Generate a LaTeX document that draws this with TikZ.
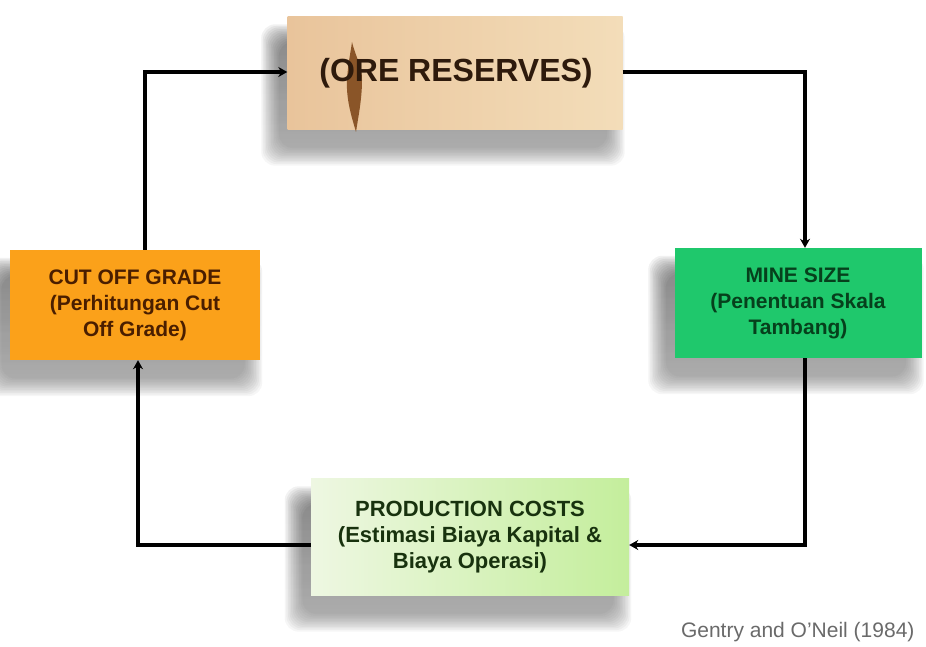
\documentclass[tikz,border=0pt]{standalone}
\usepackage{fontspec}
\setmainfont{Liberation Sans}
\usetikzlibrary{arrows.meta,calc,backgrounds}

\definecolor{oreA}{HTML}{E9C49B}
\definecolor{oreB}{HTML}{F3DDB9}
\definecolor{oreTxt}{HTML}{2E1A0C}
\definecolor{vein}{HTML}{8A5528}
\definecolor{cogFill}{HTML}{FBA11A}
\definecolor{cogTxt}{HTML}{4A1E00}
\definecolor{mineFill}{HTML}{1FC86C}
\definecolor{mineTxt}{HTML}{06401C}
\definecolor{prodA}{HTML}{EEF7E2}
\definecolor{prodB}{HTML}{C4EE9C}
\definecolor{prodTxt}{HTML}{18320E}
\definecolor{credit}{HTML}{6A6A6A}
\definecolor{shade}{HTML}{5A6478}

\tikzset{
  x=1pt, y=1pt,
  cyclebox/.style={rectangle, inner sep=0pt, align=center,
    font=\fontsize{21}{26}\selectfont\bfseries},
  flow/.style={line width=3.5pt, -{Stealth[length=9pt,width=10pt]}}
}

% soft drop shadow built from stacked translucent rectangles
\newcommand{\softshadow}[1]{%
  \foreach \k in {0,...,11}{%
    \fill[shade, opacity=0.035, rounded corners=14pt]
      ($(#1.south west)+(-12-14+\k*1.6,-22-14+\k*1.6)$) rectangle
      ($(#1.north east)+(-12+14-\k*1.6,-22+14-\k*1.6)$);
  }%
}

\begin{document}
\begin{tikzpicture}
\useasboundingbox (0,0) rectangle (926,647);

% the four stages of the cycle
\node[cyclebox, minimum width=335pt, minimum height=113pt,
      left color=oreA, right color=oreB] (ore) at (455,574) {};
% vein running through the rock sample
\fill[vein] (352,605) .. controls (356,589) and (362,581) .. (362,567)
  .. controls (362,547) and (358,529) .. (356,515)
  .. controls (352,529) and (346,547) .. (347,567)
  .. controls (348,583) and (350,591) .. (352,605) -- cycle;
\node[font=\fontsize{32}{32}\selectfont\bfseries, text=oreTxt] (oretext)
  at (456,574) {(ORE RESERVES)};

\node[cyclebox, minimum width=250pt, minimum height=110pt,
      fill=cogFill, text=cogTxt] (cog) at (135,342)
  {CUT OFF GRADE\\(Perhitungan Cut\\Off Grade)};

\node[cyclebox, minimum width=247pt, minimum height=110pt,
      fill=mineFill, text=mineTxt] (mine) at (798,344)
  {MINE SIZE\\(Penentuan Skala\\Tambang)};

\node[cyclebox, minimum width=318pt, minimum height=117pt,
      left color=prodA, right color=prodB, text=prodTxt,
      font=\fontsize{22}{26}\selectfont\bfseries] (prod) at (470,110)
  {PRODUCTION COSTS\\(Estimasi Biaya Kapital \&\\Biaya Operasi)};

\node[anchor=east, text=credit, font=\fontsize{21}{21}\selectfont] (src)
  at (918,15) {Gentry and O'Neil (1984)};

\begin{scope}[on background layer]
  \fill[white] (0,0) rectangle (926,647);
  \softshadow{ore}
  \softshadow{cog}
  \softshadow{mine}
  \softshadow{prod}
\end{scope}

% connectors around the cycle
\coordinate (c1) at (145,575);
\coordinate (c2) at (805,575);
\coordinate (c3) at (805,102);
\coordinate (c4) at (138,102);

\draw[flow] (cog.north -| c1) -- (c1) -- (ore.west |- c1);
\draw[flow] (ore.east |- c2) -- (c2) -- (mine.north -| c2);
\draw[flow] (mine.south -| c3) -- (c3) -- (prod.east |- c3);
\draw[flow] (prod.west |- c4) -- (c4) -- (cog.south -| c4);
\end{tikzpicture}
\end{document}
